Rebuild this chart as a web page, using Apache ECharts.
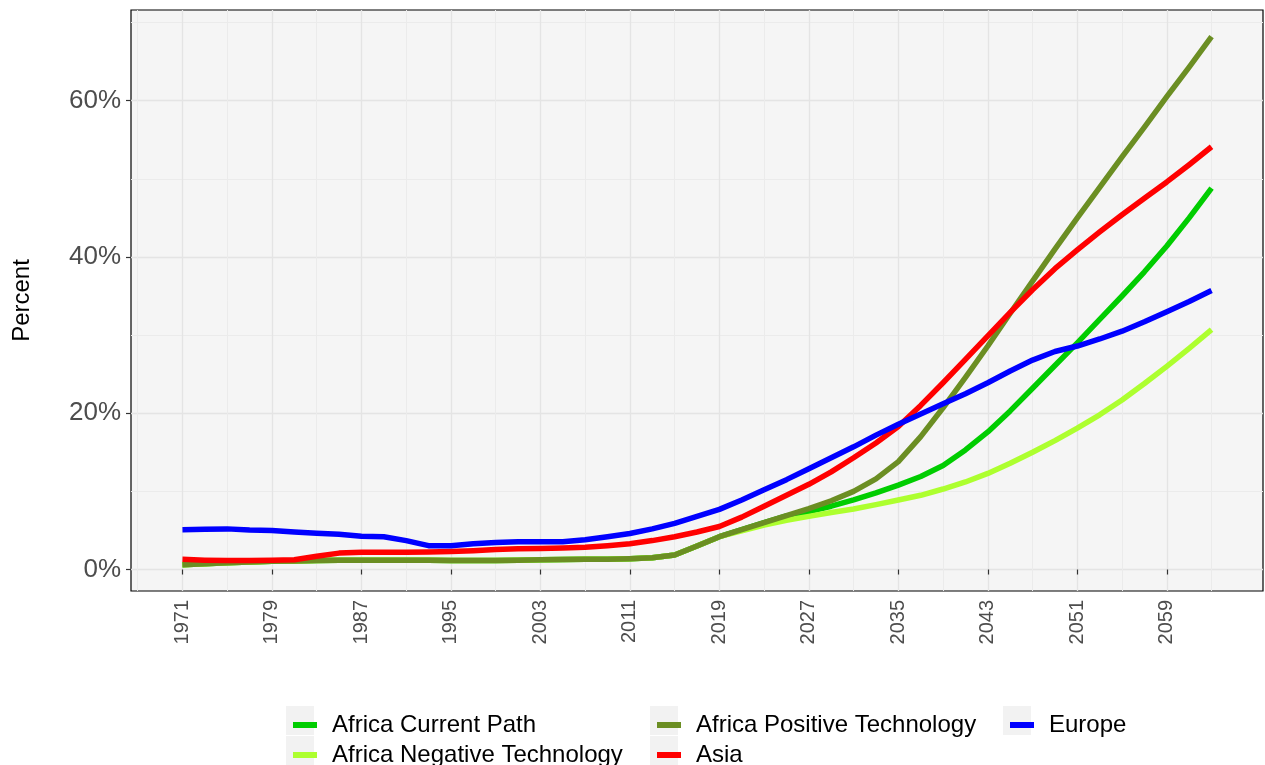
<!DOCTYPE html>
<html>
<head>
<meta charset="utf-8">
<title>Percent</title>
<script src="https://cdn.jsdelivr.net/npm/echarts@6/dist/echarts.min.js"></script>
<style>
  body { margin: 0; background: #fff; }
  #chart { width: 1265px; height: 765px; }
</style>
</head>
<body>
<div id="chart"></div>
<script>
// odd years 1971 - 2063
var years = [1971, 1973, 1975, 1977, 1979, 1981, 1983, 1985, 1987, 1989, 1991, 1993, 1995, 1997, 1999,
  2001, 2003, 2005, 2007, 2009, 2011, 2013, 2015, 2017, 2019, 2021, 2023, 2025, 2027, 2029, 2031,
  2033, 2035, 2037, 2039, 2041, 2043, 2045, 2047, 2049, 2051, 2053, 2055, 2057, 2059, 2061, 2063];

var seriesNames = ['Africa Current Path', 'Africa Negative Technology', 'Africa Positive Technology', 'Asia', 'Europe'];

var africaCurrent = [0.6, 0.75, 0.85, 0.95, 1.05, 1.1, 1.15, 1.2, 1.2, 1.2, 1.2, 1.2, 1.15, 1.15, 1.15,
  1.2, 1.25, 1.28, 1.3, 1.32, 1.38, 1.5, 1.85, 3.0, 4.2, 5.1, 6.0, 6.85, 7.4, 8.1, 8.9,
  9.8, 10.8, 11.9, 13.3, 15.3, 17.6, 20.3, 23.2, 26.1, 29.0, 32.0, 35.0, 38.1, 41.4, 45.0, 48.8];
var africaNegative = [0.6, 0.75, 0.85, 0.95, 1.05, 1.1, 1.15, 1.2, 1.2, 1.2, 1.2, 1.2, 1.15, 1.15, 1.15,
  1.2, 1.25, 1.28, 1.3, 1.32, 1.38, 1.5, 1.85, 3.0, 4.2, 4.95, 5.7, 6.3, 6.8, 7.3, 7.75,
  8.3, 8.9, 9.5, 10.3, 11.2, 12.3, 13.6, 15.0, 16.5, 18.1, 19.8, 21.7, 23.8, 26.0, 28.3, 30.7];
var africaPositive = [0.6, 0.75, 0.85, 0.95, 1.05, 1.1, 1.15, 1.2, 1.2, 1.2, 1.2, 1.2, 1.15, 1.15, 1.15,
  1.2, 1.25, 1.28, 1.3, 1.32, 1.38, 1.5, 1.85, 3.0, 4.2, 5.1, 6.0, 6.9, 7.8, 8.8, 10.0,
  11.6, 13.8, 17.0, 20.7, 24.6, 28.6, 32.8, 36.9, 41.0, 45.0, 48.9, 52.8, 56.6, 60.5, 64.3, 68.2];
var asia = [1.3, 1.2, 1.15, 1.15, 1.2, 1.25, 1.7, 2.1, 2.2, 2.2, 2.2, 2.25, 2.3, 2.4, 2.55,
  2.65, 2.7, 2.75, 2.85, 3.05, 3.3, 3.7, 4.2, 4.8, 5.5, 6.7, 8.1, 9.5, 10.9, 12.5, 14.3,
  16.2, 18.3, 21.0, 23.9, 26.9, 29.9, 32.9, 35.8, 38.5, 40.9, 43.2, 45.4, 47.5, 49.6, 51.8, 54.1];
var europe = [5.1, 5.15, 5.2, 5.05, 5.0, 4.8, 4.65, 4.5, 4.25, 4.2, 3.7, 3.05, 3.05, 3.3, 3.45,
  3.55, 3.55, 3.55, 3.8, 4.2, 4.6, 5.2, 5.9, 6.8, 7.7, 8.9, 10.2, 11.5, 12.9, 14.3, 15.7,
  17.2, 18.6, 19.9, 21.2, 22.5, 23.9, 25.4, 26.8, 27.9, 28.6, 29.5, 30.5, 31.7, 33.0, 34.3, 35.7];

// axis breaks
var xBreaks = [1971, 1979, 1987, 1995, 2003, 2011, 2019, 2027, 2035, 2043, 2051, 2059];
var xMinorBreaks = [1967, 1975, 1983, 1991, 1999, 2007, 2015, 2023, 2031, 2039, 2047, 2055, 2063];
var yBreaks = [0, 20, 40, 60];
var yMinorBreaks = [10, 30, 50, 70];

var colors = ['#00CD00', '#ADFF2F', '#6B8E23', '#FF0000', '#0000FF'];
var font = 'Liberation Sans, Arial, sans-serif';

function pairs(vals) {
  return years.map(function (y, i) { return [y, vals[i]]; });
}

var allValues = [africaCurrent, africaNegative, africaPositive, asia, europe];

var series = seriesNames.map(function (name, i) {
  return {
    name: name,
    type: 'line',
    xAxisIndex: 0,
    yAxisIndex: 0,
    data: pairs(allValues[i]),
    showSymbol: false,
    lineStyle: { width: 5.5, color: colors[i], join: 'round' },
    itemStyle: { color: colors[i] }
  };
});

// legend laid out column by column, like ggplot: one legend block per key
var legendSlots = [[288, 707], [288, 737], [652, 707], [652, 737], [1005, 707]];

var legends = seriesNames.map(function (name, i) {
  return {
    left: legendSlots[i][0],
    top: legendSlots[i][1],
    icon: 'rect',
    itemWidth: 24,
    itemHeight: 6,
    selectedMode: false,
    textStyle: { fontSize: 24, color: '#000', fontFamily: font, lineHeight: 26, padding: [0, 0, 0, 10] },
    data: [name]
  };
});

// grey key boxes behind legend glyphs
var keyBoxes = legendSlots.map(function (p) {
  return { type: 'rect', left: p[0] - 2, top: p[1] - 1, shape: { width: 28, height: 29 }, style: { fill: '#f2f2f2' }, z: 0 };
});

var chart = echarts.init(document.getElementById('chart'));
var option = {
  animation: false,
  color: colors,
  textStyle: { fontFamily: font },
  grid: {
    left: 131, right: 2, top: 10, bottom: 174,
    show: true, backgroundColor: '#f5f5f5', borderColor: '#000', borderWidth: 1.2
  },
  graphic: keyBoxes,
  legend: legends,
  xAxis: [
    {
      type: 'value', min: 1966.4, max: 2067.6,
      axisLine: { show: false },
      axisTick: { show: true, length: 5, customValues: xBreaks, lineStyle: { color: '#333', width: 1.2 } },
      axisLabel: { customValues: xBreaks, rotate: 90, margin: 9, fontSize: 20, color: '#4d4d4d', fontFamily: font,
        padding: [8, 0, 0, 0],
        formatter: function (v) { return String(v); } },
      splitLine: { show: true, lineStyle: { color: '#e4e4e4', width: 1.3 } }
    },
    {
      type: 'value', min: 1966.4, max: 2067.6, position: 'top',
      axisLine: { show: false },
      axisTick: { show: false, customValues: xMinorBreaks },
      axisLabel: { show: false },
      splitLine: { show: true, lineStyle: { color: '#ebebeb', width: 1 } }
    }
  ],
  yAxis: [
    {
      type: 'value', min: -2.75, max: 71.6,
      name: 'Percent', nameLocation: 'middle', nameGap: 97,
      nameTextStyle: { fontSize: 24, color: '#000', fontFamily: font },
      axisLine: { show: false },
      axisTick: { show: true, length: 5, customValues: yBreaks, lineStyle: { color: '#333', width: 1.2 } },
      axisLabel: { customValues: yBreaks, margin: 10, fontSize: 26, color: '#4d4d4d', fontFamily: font,
        formatter: function (v) { return v + '%'; } },
      splitLine: { show: true, lineStyle: { color: '#e4e4e4', width: 1.3 } }
    },
    {
      type: 'value', min: -2.75, max: 71.6, position: 'right',
      axisLine: { show: false },
      axisTick: { show: false, customValues: yMinorBreaks },
      axisLabel: { show: false },
      splitLine: { show: true, lineStyle: { color: '#ebebeb', width: 1 } }
    }
  ],
  series: series
};
chart.setOption(option);
</script>
</body>
</html>
